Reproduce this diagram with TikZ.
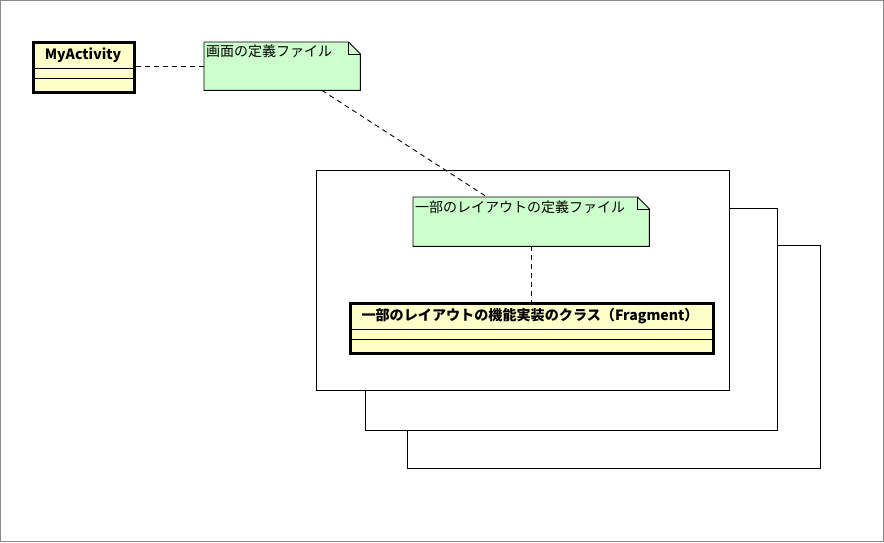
\documentclass[tikz,border=0pt]{standalone}
\usepackage{fontspec}
\newfontfamily\cjk{Noto Sans CJK JP}
\usetikzlibrary{calc}
\definecolor{classfill}{HTML}{FFFFCA}
\definecolor{notefill}{HTML}{CCFFCC}
\definecolor{bordergray}{HTML}{8A8A8A}
\tikzset{
  classbox/.style={draw=black, line width=2.6pt, fill=classfill, anchor=north west, inner sep=0pt},
  notebase/.style={anchor=north west, inner sep=0pt},
  framebox/.style={draw=black, line width=0.9pt, fill=white, anchor=north west, inner sep=0pt},
  conn/.style={dashed, line width=0.9pt, dash pattern=on 5pt off 4pt},
  notetext/.style={anchor=north west, inner sep=0pt, font=\cjk\fontsize{14}{15}\selectfont},
  classtext/.style={inner sep=0pt, font=\cjk\bfseries\fontsize{14.1}{15}\selectfont},
  sepline/.style={line width=0.9pt}
}
\newcommand{\drawnote}[1]{%
  \draw[fill=notefill, line width=0.9pt]
    (#1.north west) -- ($(#1.north east)+(-12pt,0)$) -- ($(#1.north east)+(0,-12pt)$)
    -- (#1.south east) -- (#1.south west) -- cycle;
  \draw[line width=0.9pt] ($(#1.north east)+(-12pt,0)$) -- ($(#1.north east)+(-12pt,-12pt)$) -- ($(#1.north east)+(0,-12pt)$);
}
\begin{document}
\begin{tikzpicture}[x=1pt,y=-1pt]
\useasboundingbox (0,0) rectangle (884,542);
\draw[bordergray, line width=1pt] (0.5,0.5) rectangle (883.5,541.5);

% stacked frames
\node[framebox, minimum width=413pt, minimum height=223pt] (f3) at (407,245) {};
\node[framebox, minimum width=412pt, minimum height=222pt] (f2) at (365,208) {};
\node[framebox, minimum width=413pt, minimum height=220pt] (f1) at (316,170) {};

% MyActivity class
\node[classbox, minimum width=101pt, minimum height=50pt] (act) at (32,41) {};
\node[classtext] (actname) at (83,55.5) {MyActivity};
\draw[sepline] ($(act.north west)+(0,-27pt)$) coordinate (a1) -- (a1 -| act.east);
\draw[sepline] ($(act.north west)+(0,-37pt)$) coordinate (a2) -- (a2 -| act.east);

% note 1
\node[notebase, minimum width=156pt, minimum height=48pt] (n1) at (204,42) {};
\drawnote{n1}
\node[notetext] (n1t) at (206,45) {画面の定義ファイル};

% note 2
\node[notebase, minimum width=236pt, minimum height=49pt] (n2) at (413,197) {};
\drawnote{n2}
\node[notetext] (n2t) at (415,201) {一部のレイアウトの定義ファイル};

% Fragment class
\node[classbox, minimum width=363pt, minimum height=50pt] (frag) at (349,302) {};
\node[classtext] (fragname) at (530,316.5) {一部のレイアウトの機能実装のクラス（Fragment）};
\draw[sepline] ($(frag.north west)+(0,-27pt)$) coordinate (b1) -- (b1 -| frag.east);
\draw[sepline] ($(frag.north west)+(0,-37pt)$) coordinate (b2) -- (b2 -| frag.east);

% connectors
\coordinate (c1) at (133,66);
\draw[conn] (act.east |- c1) -- (n1.west |- c1);
\draw[conn] ($(n1.south west)+(118pt,0)$) -- ($(n2.north west)+(74pt,0)$);
\draw[conn] ($(n2.south west)+(118pt,0)$) -- ($(frag.north west)+(182pt,0)$);
\end{tikzpicture}
\end{document}
